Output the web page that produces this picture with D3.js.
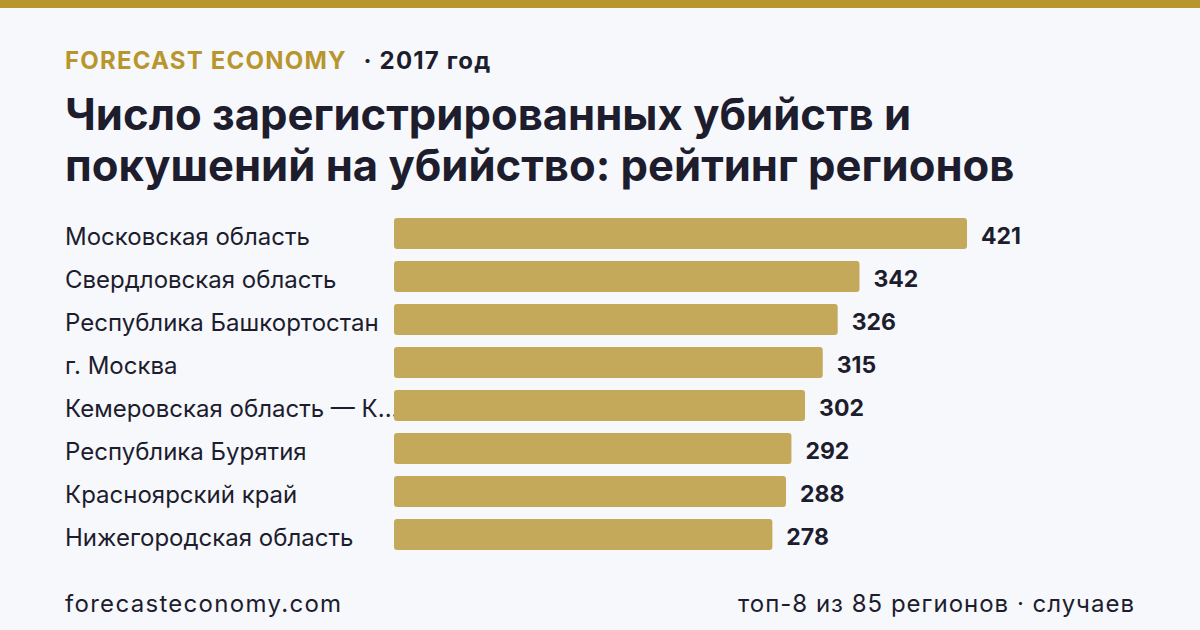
<!DOCTYPE html>
<html>
<head>
  <meta charset="utf-8" />
  <title>Число зарегистрированных убийств</title>
  <script src="https://cdnjs.cloudflare.com/ajax/libs/d3/7.8.5/d3.min.js"></script>
  <style>
    html, body { margin: 0; padding: 0; background: #f7f8fc; }
    svg { display: block; font-family: Inter, "Noto Sans", sans-serif; }
  </style>
</head>
<body>
  <div id="chart"></div>
  <script>
    // data
    var regions = [
      "Московская область",
      "Свердловская область",
      "Республика Башкортостан",
      "г. Москва",
      "Кемеровская область — Кузбасс",
      "Республика Бурятия",
      "Красноярский край",
      "Нижегородская область"
    ];
    var values = [421, 342, 326, 315, 302, 292, 288, 278];

    var width = 1200, height = 630;
    var gold = "#b8962e", barColor = "#c5a95b", ink = "#1d1d2e";

    var svg = d3.select("#chart")
      .append("svg")
      .attr("width", width)
      .attr("height", height);

    svg.append("rect")
      .attr("width", width).attr("height", height)
      .attr("fill", "#f7f8fc");

    // top strip
    svg.append("rect")
      .attr("width", width).attr("height", 8)
      .attr("fill", gold);

    // kicker
    var kicker = svg.append("text")
      .attr("x", 65).attr("y", 69)
      .attr("font-size", 24).attr("font-weight", 700)
      .attr("letter-spacing", 1.2);
    kicker.append("tspan").attr("fill", gold).text("FORECAST ECONOMY");
    kicker.append("tspan").attr("fill", ink).attr("dx", 18).text("· 2017 год");

    // title
    svg.append("text")
      .attr("x", 65).attr("y", 130)
      .attr("font-size", 43.6).attr("font-weight", 700).attr("fill", ink)
      .text("Число зарегистрированных убийств и");
    svg.append("text")
      .attr("x", 65).attr("y", 181)
      .attr("font-size", 43.6).attr("font-weight", 700).attr("fill", ink)
      .text("покушений на убийство: рейтинг регионов");

    var x = d3.scaleLinear().domain([0, 421]).range([394, 967]);
    var y = d3.scaleBand().domain(regions).range([218, 550]).paddingInner(12 / 43).paddingOuter(0);

    var data = regions.map(function(r, i) { return { name: r, value: values[i] }; });

    var labels = svg.selectAll(".label")
      .data(data)
      .enter().append("text")
      .attr("class", "label")
      .attr("x", 65)
      .attr("y", function(d) { return y(d.name) + y.bandwidth() / 2 + 11; })
      .attr("font-size", 24)
      .attr("fill", ink)
      .text(function(d) { return d.name; });

    // truncate long names so they end at the bars
    labels.each(function(d) {
      var t = d3.select(this);
      var maxW = x(0) - 65 + 8;
      if (this.getComputedTextLength() <= maxW) return;
      var s = d.name;
      while (s.length > 1) {
        s = s.slice(0, -1);
        t.text(s.trim() + "...");
        if (this.getComputedTextLength() <= maxW) break;
      }
    });

    svg.selectAll(".bar")
      .data(data)
      .enter().append("rect")
      .attr("class", "bar")
      .attr("x", x(0))
      .attr("y", function(d) { return y(d.name); })
      .attr("width", function(d) { return x(d.value) - x(0); })
      .attr("height", y.bandwidth())
      .attr("rx", 3)
      .attr("fill", barColor);

    svg.selectAll(".value")
      .data(data)
      .enter().append("text")
      .attr("class", "value")
      .attr("x", function(d) { return x(d.value) + 14; })
      .attr("y", function(d) { return y(d.name) + y.bandwidth() / 2 + 10; })
      .attr("font-size", 23)
      .attr("font-weight", 700)
      .attr("fill", ink)
      .text(function(d) { return d.value; });

    // footer
    svg.append("text")
      .attr("x", 65).attr("y", 612)
      .attr("font-size", 24).attr("letter-spacing", 1.3).attr("fill", ink)
      .text("forecasteconomy.com");
    svg.append("text")
      .attr("x", 1135).attr("y", 612)
      .attr("text-anchor", "end")
      .attr("font-size", 24).attr("letter-spacing", 1).attr("fill", ink)
      .text("топ-8 из 85 регионов · случаев");
  </script>
</body>
</html>
